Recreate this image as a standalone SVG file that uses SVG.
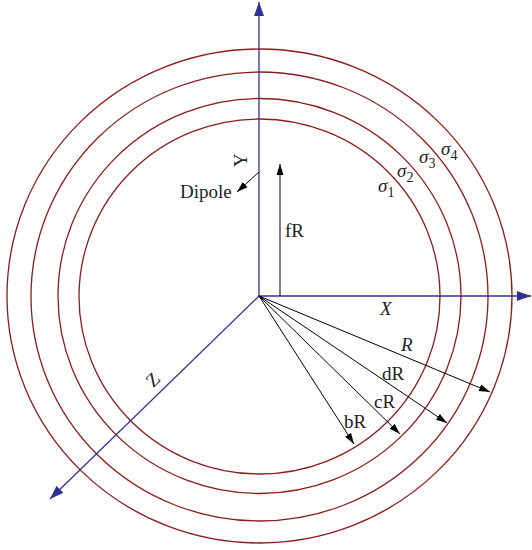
<svg xmlns="http://www.w3.org/2000/svg" width="532" height="550" viewBox="0 0 532 550">
<defs>
<marker id="ab" markerUnits="userSpaceOnUse" markerWidth="16" markerHeight="12" refX="14" refY="6" orient="auto">
<path d="M0,1 L14,6 L0,11 Z" fill="#2e3192"/>
</marker>
<marker id="ak" markerUnits="userSpaceOnUse" markerWidth="12" markerHeight="10" refX="11" refY="4" orient="auto">
<path d="M0,0.5 L11,4 L0,7.5 Z" fill="#000"/>
</marker>
</defs>
<style>
.c{fill:none;stroke:#8e1b1b;stroke-width:1.3}
.ax{stroke:#2e3192;stroke-width:1.3;fill:none}
.ar{stroke:#000;stroke-width:1;fill:none}
text{font-family:"Liberation Serif","DejaVu Serif",serif;font-size:19px;fill:#222}
.it{font-style:italic}
.sub{font-size:14px;font-style:normal}
</style>
<rect width="532" height="550" fill="#fff"/>
<g id="spheres">
<ellipse class="c" cx="259.5" cy="296.5" rx="180.5" ry="177.5"/>
<ellipse class="c" cx="259.5" cy="296" rx="201.5" ry="197.5"/>
<ellipse class="c" cx="259.5" cy="296.5" rx="228.5" ry="224.5"/>
<ellipse class="c" cx="259.5" cy="296" rx="252.5" ry="247"/>
</g>
<g id="connectors">
<line class="ax" x1="259" y1="296" x2="259" y2="2" marker-end="url(#ab)"/>
<line class="ax" x1="259" y1="296" x2="531" y2="296" marker-end="url(#ab)"/>
<line class="ax" x1="259" y1="296" x2="50" y2="499" marker-end="url(#ab)"/>
<line class="ar" x1="259" y1="172" x2="237" y2="192" marker-end="url(#ak)"/>
<line class="ar" x1="280" y1="296" x2="280" y2="164" marker-end="url(#ak)"/>
<line class="ar" x1="259" y1="296" x2="490" y2="392" marker-end="url(#ak)"/>
<line class="ar" x1="259" y1="296" x2="447" y2="423" marker-end="url(#ak)"/>
<line class="ar" x1="259" y1="296" x2="400" y2="434" marker-end="url(#ak)"/>
<line class="ar" x1="259" y1="296" x2="354" y2="444" marker-end="url(#ak)"/>
</g>
<g id="labels">
<text x="247" y="160" text-anchor="middle" transform="rotate(-90 247 160)">Y</text>
<text x="153" y="386" text-anchor="middle" transform="rotate(-45 153 380)">Z</text>
<text class="it" x="380" y="315">X</text>
<text x="180" y="198">Dipole</text>
<text x="285" y="237">fR</text>
<text class="it" x="401" y="351">R</text>
<text x="382" y="380">dR</text>
<text x="374" y="408">cR</text>
<text x="344" y="428">bR</text>
<text class="it" x="378" y="192">σ<tspan class="sub" dy="5">1</tspan></text>
<text class="it" x="397" y="177">σ<tspan class="sub" dy="5">2</tspan></text>
<text class="it" x="419" y="163">σ<tspan class="sub" dy="5">3</tspan></text>
<text class="it" x="441" y="155">σ<tspan class="sub" dy="5">4</tspan></text>
</g>
</svg>
